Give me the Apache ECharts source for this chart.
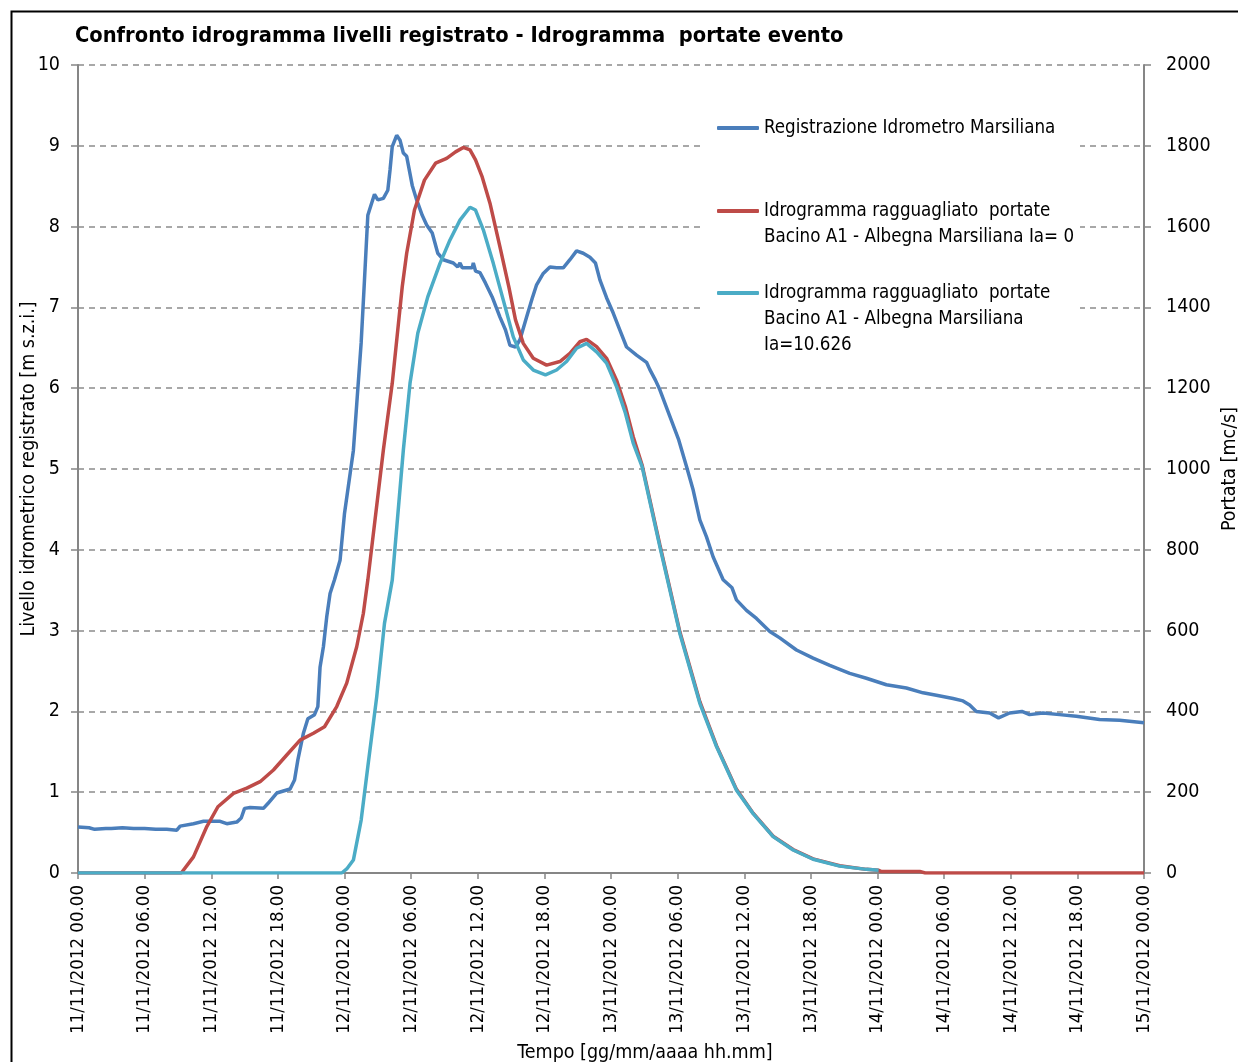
<!DOCTYPE html>
<html lang="it">
<head>
    <meta charset="UTF-8">
    <title>Confronto idrogramma</title>
    <script src="https://cdn.jsdelivr.net/npm/echarts@6/dist/echarts.min.js"></script>
    <style>
        html, body { margin: 0; padding: 0; background: #fff; }
        #main { width: 1238px; height: 1062px; }
    </style>
</head>
<body>
<div id="main"></div>
<script>
    // ore dall'inizio (11/11/2012 00.00) e valori
    var blueHours = [0,1,1.5,2.5,3,4,5,6,7,8,8.9,9.2,10.4,11.3,12.8,13.4,14.3,14.7,15.0,15.5,16.7,17.1,17.9,19.1,19.5,19.8,20.3,20.7,21.3,21.6,21.8,22.1,22.4,22.7,23.1,23.6,24.0,24.8,25.1,25.5,25.8,26.1,26.7,27.0,27.5,27.9,28.1,28.3,28.7,29.0,29.3,29.6,30.1,30.5,31.0,31.4,31.9,32.4,32.9,33.8,34.2,34.4,34.6,35.5,35.6,35.8,36.2,36.7,37.3,38.0,38.5,38.9,39.4,39.8,40.4,40.9,41.3,41.9,42.5,43.1,43.7,44.3,44.9,45.5,46.1,46.6,47.0,47.6,48.2,48.8,49.4,50.3,51.2,51.5,52.0,52.4,53.3,54.1,54.8,55.4,56.0,56.6,57.2,58.1,58.9,59.3,60.2,61.1,62.3,63.2,64.7,66.2,67.7,69.5,71.0,72.8,74.6,76.1,77.3,78.8,79.7,80.3,80.9,82.1,82.9,83.9,85.0,85.7,86.9,88.4,89.9,92.0,93.8,96.0];
    var blueLevel = [0.57,0.56,0.54,0.55,0.55,0.56,0.55,0.55,0.54,0.54,0.53,0.58,0.61,0.64,0.64,0.61,0.63,0.68,0.80,0.81,0.80,0.86,0.99,1.04,1.15,1.40,1.73,1.91,1.96,2.06,2.55,2.80,3.17,3.46,3.63,3.87,4.45,5.23,5.80,6.56,7.34,8.14,8.40,8.33,8.35,8.45,8.70,8.99,9.13,9.07,8.91,8.87,8.51,8.33,8.14,8.02,7.92,7.67,7.59,7.55,7.50,7.55,7.49,7.49,7.55,7.45,7.43,7.30,7.13,6.88,6.72,6.53,6.51,6.60,6.88,7.11,7.28,7.42,7.50,7.49,7.49,7.59,7.70,7.67,7.62,7.55,7.34,7.12,6.93,6.72,6.51,6.41,6.32,6.23,6.10,5.98,5.65,5.36,5.03,4.74,4.37,4.16,3.91,3.63,3.53,3.38,3.25,3.15,2.99,2.91,2.76,2.66,2.57,2.47,2.41,2.33,2.29,2.23,2.20,2.16,2.13,2.08,2.00,1.98,1.92,1.98,2.00,1.96,1.98,1.96,1.94,1.90,1.89,1.86];

    var redHours = [0,9.3,10.4,11.6,12.6,14.0,15.2,16.4,17.6,18.8,20.0,21.2,22.2,23.3,24.2,25.1,25.7,26.1,27.5,28.3,29.2,29.6,30.3,31.2,32.2,33.2,34.0,34.7,35.3,35.8,36.4,37.1,38.0,38.8,39.4,40.1,41.0,42.2,43.4,44.3,45.2,45.8,46.7,47.6,48.5,49.3,50.0,50.8,52.4,54.2,56.0,57.5,59.3,60.8,62.6,64.4,66.2,68.6,71.0,72.1,72.3,75.8,76.3,96];
    var redFlow = [0,0,40,115,164,197,210,226,255,292,329,346,362,412,470,560,643,725,1047,1212,1451,1534,1641,1715,1757,1769,1785,1796,1790,1765,1723,1658,1550,1451,1369,1311,1274,1257,1266,1286,1315,1321,1303,1274,1220,1154,1080,1010,812,597,424,315,207,148,91,58,35,18,9,7,4,4,0,0];

    var cyanHours = [0,23.75,24.2,24.8,25.5,26.1,26.9,27.6,28.3,29.3,29.9,30.6,31.5,32.6,33.5,34.4,35.3,35.8,36.5,37.4,38.3,39.2,40.1,41.0,42.1,43.1,44.0,44.9,45.8,46.7,47.6,48.5,49.3,50.0,50.8,52.4,54.2,56.0,57.5,59.3,60.8,62.6,64.4,66.2,68.6,71.0,72.1];
    var cyanFlow = [0,0,10,32,131,263,436,618,725,1047,1212,1336,1426,1509,1567,1616,1648,1641,1592,1509,1418,1327,1270,1245,1233,1245,1266,1299,1311,1290,1262,1204,1138,1064,1006,808,593,420,313,205,147,90,57,34,17,9,7];

    var seriesNames = [
        'Registrazione Idrometro Marsiliana',
        'Idrogramma ragguagliato  portate\nBacino A1 - Albegna Marsiliana Ia= 0',
        'Idrogramma ragguagliato  portate\nBacino A1 - Albegna Marsiliana\nIa=10.626'
    ];

    var FONT = "'Liberation Sans Narrow', 'DejaVu Sans Condensed', sans-serif";
    var GREY = '#868686';

    function pairs(xs, ys) {
        var out = [];
        for (var i = 0; i < Math.min(xs.length, ys.length); i++) out.push([xs[i], ys[i]]);
        return out;
    }

    function dateLabel(v) {
        var day = 11 + Math.floor(v / 24);
        var h = v % 24;
        return day + '/11/2012 ' + (h < 10 ? '0' + h : h) + '.00';
    }

    // il testo della legenda va centrato sulla prima riga: righe vuote sopra
    function legendText(name) {
        var n = name.split('\n').length;
        var pad = '';
        for (var i = 1; i < n; i++) pad += '\n';
        return pad + name;
    }

    function legendAt(name, top) {
        return {
            data: [name],
            orient: 'vertical',
            left: 717,
            top: top,
            padding: 0,
            icon: 'roundRect',
            itemWidth: 42,
            itemHeight: 4,
            selectedMode: false,
            formatter: legendText,
            textStyle: { fontFamily: FONT, fontSize: 18.6, color: '#000', lineHeight: 26 }
        };
    }

    var myChart = echarts.init(document.getElementById('main'));
    var option = {
        backgroundColor: '#fff',
        animation: false,
        title: {
            text: 'Confronto idrogramma livelli registrato - Idrogramma  portate evento',
            left: 70,
            top: 20,
            textStyle: { fontFamily: FONT, fontSize: 21.7, fontWeight: 'bold', color: '#000' }
        },
        graphic: [
            {
                type: 'rect', left: 9, top: 9, z: -10, silent: true,
                shape: { width: 1260, height: 1080 },
                style: { fill: 'none', stroke: '#000', lineWidth: 2 }
            },
            {
                type: 'rect', left: 703, top: 112, z: 1, silent: true,
                shape: { width: 377, height: 250 },
                style: { fill: '#fff' }
            }
        ],
        legend: [
            legendAt(seriesNames[0], 115),
            legendAt(seriesNames[1], 172),
            legendAt(seriesNames[2], 228)
        ],
        grid: { left: 78, right: 94, top: 65, bottom: 189, outerBoundsMode: 'none', containLabel: false },
        xAxis: {
            type: 'value',
            min: 0, max: 96, interval: 6,
            name: 'Tempo [gg/mm/aaaa hh.mm]',
            nameLocation: 'middle',
            nameGap: 170,
            nameMoveOverlap: false,
            nameTextStyle: { fontFamily: FONT, fontSize: 19.5, color: '#000', padding: [0, 0, 0, 68] },
            axisLine: { lineStyle: { color: GREY, width: 2 } },
            axisTick: { length: 6, lineStyle: { color: GREY, width: 1.5 } },
            axisLabel: {
                rotate: 90, margin: 12, formatter: dateLabel,
                fontFamily: FONT, fontSize: 18.5, color: '#000'
            },
            splitLine: { show: false }
        },
        yAxis: [
            {
                type: 'value',
                min: 0, max: 10, interval: 1,
                name: 'Livello idrometrico registrato [m s.z.i.]',
                nameLocation: 'middle',
                nameGap: 39,
                nameMoveOverlap: false,
                nameTextStyle: { fontFamily: FONT, fontSize: 19.5, color: '#000' },
                axisLine: { show: true, lineStyle: { color: GREY, width: 2 } },
                axisTick: { show: true, length: 7, lineStyle: { color: GREY, width: 1.5 } },
                axisLabel: { margin: 18, fontFamily: FONT, fontSize: 19.5, color: '#000' },
                splitLine: { lineStyle: { color: '#8c8c8c', width: 1.5, type: [6, 5] } }
            },
            {
                type: 'value',
                position: 'right',
                min: 0, max: 2000, interval: 200,
                name: 'Portata [mc/s]',
                nameLocation: 'middle',
                nameRotate: 90,
                nameGap: 76,
                nameMoveOverlap: false,
                nameTextStyle: { fontFamily: FONT, fontSize: 19.5, color: '#000' },
                axisLine: { show: true, lineStyle: { color: GREY, width: 2 } },
                axisTick: { show: true, length: 7, lineStyle: { color: GREY, width: 1.5 } },
                axisLabel: {
                    margin: 22, fontFamily: FONT, fontSize: 19.5, color: '#000',
                    formatter: function (v) { return String(v); }
                },
                splitLine: { show: false }
            }
        ],
        series: [
            {
                name: seriesNames[0],
                type: 'line',
                yAxisIndex: 0,
                data: pairs(blueHours, blueLevel),
                showSymbol: false,
                color: '#4a7ebb',
                lineStyle: { width: 3.5, color: '#4a7ebb' },
                z: 3
            },
            {
                name: seriesNames[1],
                type: 'line',
                yAxisIndex: 1,
                data: pairs(redHours, redFlow),
                showSymbol: false,
                color: '#be4b48',
                lineStyle: { width: 3.5, color: '#be4b48' },
                z: 4
            },
            {
                name: seriesNames[2],
                type: 'line',
                yAxisIndex: 1,
                data: pairs(cyanHours, cyanFlow),
                showSymbol: false,
                color: '#4bacc6',
                lineStyle: { width: 3.5, color: '#4bacc6' },
                z: 5
            }
        ]
    };
    myChart.setOption(option);
</script>
</body>
</html>
